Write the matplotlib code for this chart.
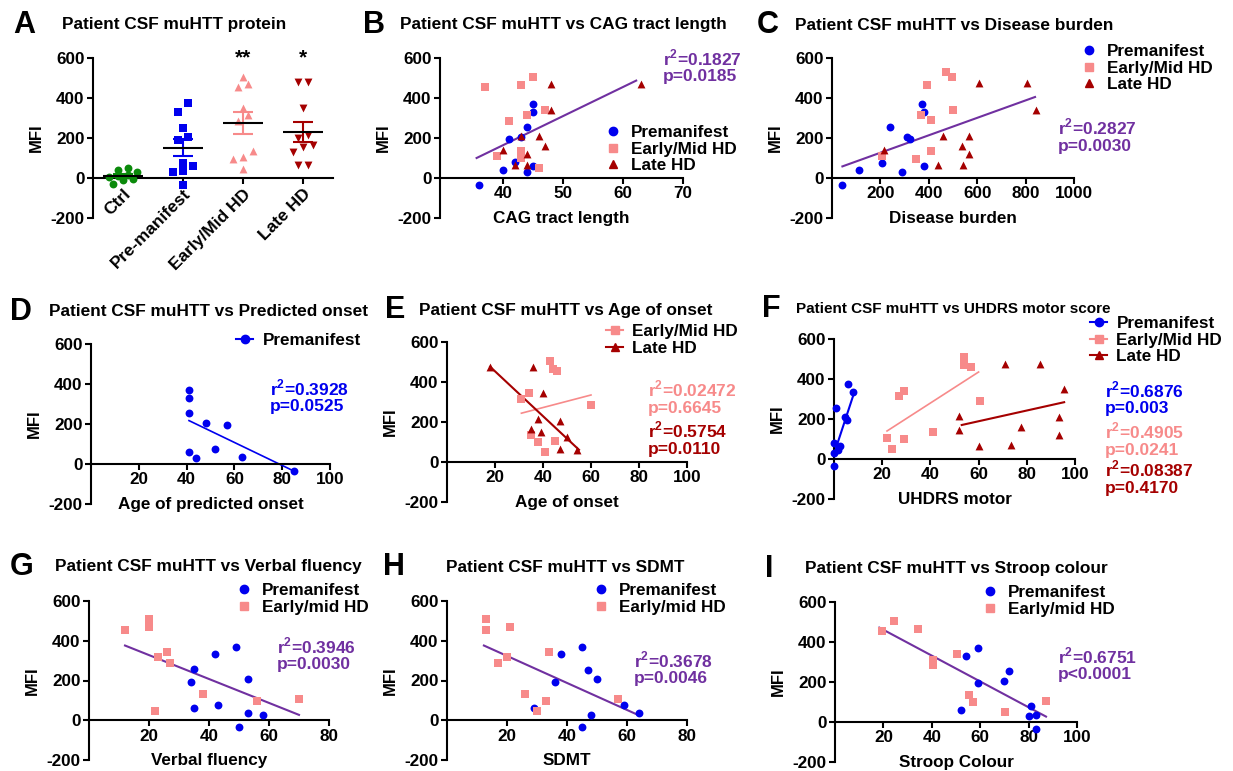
import numpy as np
import matplotlib.pyplot as plt
from matplotlib.lines import Line2D

plt.rcParams['font.family'] = ['Liberation Sans', 'DejaVu Sans']
plt.rcParams['font.weight'] = 'bold'
plt.rcParams['axes.labelweight'] = 'bold'
plt.rcParams['axes.unicode_minus'] = False
plt.rcParams['mathtext.fontset'] = 'custom'
plt.rcParams['mathtext.rm'] = 'Liberation Sans:bold'
plt.rcParams['mathtext.bf'] = 'Liberation Sans:bold'

BLUE = '#0000ee'
PINK = '#f78a8a'
DRED = '#a50000'
GREEN = '#0b8a0b'
PURPLE = '#7030a0'

W, H = 1233, 771

# ---- data ----
# A: MFI per group
a_groups = ['Ctrl', 'Pre-manifest', 'Early/Mid HD', 'Late HD']
a_ctrl = [50, 38, 28, 15, 10, 3, -3, -12, -28]
a_pre = [373, 331, 252, 206, 192, 75, 60, 35, 30, -37]
a_early = [507, 468, 453, 348, 314, 287, 134, 105, 97, 47]
a_late = [478, 478, 348, 214, 202, 164, 155, 130, 67, 67]
a_stars = ['', '', '**', '*']

# B: CAG tract length
b_pre_x = [36, 40, 41, 42, 44, 44, 45, 45, 45, 43]
b_pre_y = [-33, 38, 195, 78, 253, 28, 370, 328, 62, 205]
b_early_x = [37, 43, 45, 41, 44, 47, 39, 43, 43, 46]
b_early_y = [455, 467, 505, 287, 313, 342, 108, 133, 100, 50]
b_late_x = [48, 48, 63, 46, 47, 40, 42, 44, 44, 43]
b_late_y = [470, 342, 470, 208, 158, 142, 67, 122, 63, 208]
b_fit_x = [35.6, 62.2]
b_fit_y = [100, 487]

# C: disease burden
c_pre_x = [43, 113, 208, 240, 309, 322, 291, 371, 380, 380]
c_pre_y = [-33, 38, 75, 253, 205, 195, 30, 370, 330, 62]
c_early_x = [470, 494, 391, 501, 366, 408, 208, 347, 408]
c_early_y = [530, 505, 463, 342, 313, 288, 108, 97, 133]
c_late_x = [607, 804, 843, 457, 566, 539, 567, 439, 543, 216]
c_late_y = [473, 473, 342, 208, 212, 158, 120, 67, 63, 142]
c_fit_x = [43, 839]
c_fit_y = [58, 405]

# D: age of predicted onset
d_pre_x = [41, 41, 41, 48, 57, 41, 44, 52, 63, 85]
d_pre_y = [368, 328, 254, 205, 194, 61, 30, 76, 36, -36]
d_fit_x = [41, 85]
d_fit_y = [217, -36]

# E: age of onset
e_early_x = [43, 44, 46, 34, 31, 60, 35, 38, 45, 41]
e_early_y = [505, 466, 454, 343, 315, 287, 133, 99, 106, 51]
e_late_x = [18, 36, 40, 38, 47, 35, 39, 50, 47, 54]
e_late_y = [476, 476, 343, 214, 207, 164, 148, 123, 66, 61]
e_early_fit_x = [31, 60]
e_early_fit_y = [244, 335]
e_late_fit_x = [18, 55]
e_late_fit_y = [476, 61]

# F: UHDRS motor
f_pre_x = [6, 8, 1, 4.5, 5.5, 0, 2.5, 1.5, 0, 0]
f_pre_y = [373, 333, 253, 208, 195, 82, 65, 45, 32, -35]
f_early_x = [22, 24, 27, 29, 29, 41, 54, 54, 57, 60.5]
f_early_y = [107, 48, 315, 342, 100, 134, 510, 468, 458, 288]
f_late_x = [52, 52, 60, 71, 73.5, 77.5, 85.5, 93.5, 93.5, 95.5]
f_late_y = [216, 144, 65, 475, 70, 162, 475, 209, 120, 350]
f_pre_fit_x = [0, 8.4]
f_pre_fit_y = [25, 333]
f_early_fit_x = [22, 60]
f_early_fit_y = [140, 435]
f_late_fit_x = [53, 95.5]
f_late_fit_y = [170, 284]

# G: verbal fluency
g_pre_x = [35, 34, 42, 49, 53, 35, 43, 53, 58, 50]
g_pre_y = [256, 192, 331, 370, 206, 60, 77, 38, 28, -35]
g_early_x = [12, 20, 20, 26, 23, 27, 38, 56, 70, 22]
g_early_y = [453, 507, 467, 341, 316, 286, 134, 97, 105, 48]
g_fit_x = [12, 70]
g_fit_y = [376, 27]

# H: SDMT
h_pre_x = [45, 38, 47, 50, 36, 29, 59, 48, 64, 45]
h_pre_y = [370, 331, 254, 206, 192, 60, 77, 28, 37, -35]
h_early_x = [13, 13, 21, 34, 20, 17, 26, 33, 57, 30]
h_early_y = [507, 453, 467, 341, 316, 286, 134, 97, 105, 48]
h_fit_x = [12.3, 63.2]
h_fit_y = [376, 30]

# I: Stroop colour
i_pre_x = [59, 54, 72, 70, 59, 52, 81, 80, 83, 83]
i_pre_y = [370, 328, 253, 205, 193, 62, 78, 30, 37, -35]
i_early_x = [19.6, 24.5, 34.4, 50.3, 40.4, 40.4, 55.2, 57.2, 87.1, 70.2]
i_early_y = [457, 507, 467, 342, 310, 285, 133, 98, 105, 48]
i_fit_x = [18.3, 87.2]
i_fit_y = [472, 27]


fig = plt.figure(figsize=(W / 100, H / 100), dpi=100)


def make_ax(x0, x1, ytop, ybot):
    return fig.add_axes([x0 / W, 1 - ybot / H, (x1 - x0) / W, (ybot - ytop) / H])


def style(ax, xlim, xticks, xlabel):
    ax.set_xlim(xlim)
    ax.set_ylim(-200, 600)
    ax.set_yticks([-200, 0, 200, 400, 600])
    ax.set_xticks(xticks)
    for s in ['top', 'right']:
        ax.spines[s].set_visible(False)
    ax.spines['bottom'].set_position(('data', 0))
    for s in ['left', 'bottom']:
        ax.spines[s].set_linewidth(1.5)
    ax.tick_params(width=1.5, length=4, labelsize=12.3, pad=2)
    ax.set_ylabel('MFI', fontsize=12, labelpad=5)
    if xlabel:
        ax.set_xlabel(xlabel, fontsize=12.3, labelpad=7)
    ax.patch.set_alpha(0)


def ftext(x, y, s, color='black', size=12.5, ha='left'):
    fig.text(x / W, 1 - y / H, s, color=color, fontsize=size,
             fontweight='bold', ha=ha, va='center')


def heading(lx, tx, y, letter, title, tsize=12.4):
    ftext(lx, y, letter, size=22)
    ftext(tx, y, title, size=tsize)


def stats(x, y, r2, p, color):
    ftext(x, y - 4, r'r$^{\mathbf{2}}$=' + r2, color=color)
    ftext(x, y + 15, p, color=color)


def legend(ax, handles, labels, x, y, lines=False):
    ax.legend(handles, labels, loc='upper left',
              bbox_to_anchor=(x / W, 1 - y / H), bbox_transform=fig.transFigure,
              frameon=False, fontsize=12.3, borderpad=0, borderaxespad=0,
              handlelength=1.0, handletextpad=0.55 if lines else 0.6,
              labelspacing=0.1)


def mk(marker, color, line=False):
    return Line2D([], [], color=color, marker=marker, markersize=6,
                  linestyle='-' if line else 'none', linewidth=1.5)


def spread(vals, width=0.17, bin_size=45):
    vals = np.asarray(vals, dtype=float)
    offs = np.zeros(len(vals))
    order = np.argsort(vals)
    bins, cur = [], [order[0]]
    for i in order[1:]:
        if vals[i] - vals[cur[0]] < bin_size:
            cur.append(i)
        else:
            bins.append(cur)
            cur = [i]
    bins.append(cur)
    for b in bins:
        k = len(b)
        for j, i in enumerate(b):
            offs[i] = (j - (k - 1) / 2) * width
    return offs


S = 32

# ---- A ----
ax = make_ax(93, 333, 58, 218)
style(ax, (-0.5, 3.5), range(4), None)
a_data = [a_ctrl, a_pre, a_early, a_late]
a_colors = [GREEN, BLUE, PINK, DRED]
a_markers = ['o', 's', '^', 'v']
a_bins = [30, 45, 45, 45]
for i, (vals, c, m, bs) in enumerate(zip(a_data, a_colors, a_markers, a_bins)):
    ax.scatter(i + spread(vals, width=0.16, bin_size=bs), vals, s=S, color=c,
               marker=m, zorder=3, linewidths=0)
    mean = np.mean(vals)
    sem = np.std(vals, ddof=1) / np.sqrt(len(vals))
    ax.errorbar(i, mean, yerr=sem, color=c, capsize=7, capthick=1.5,
                elinewidth=1.5, zorder=4)
    ax.hlines(mean, i - 0.33, i + 0.33, color='black', linewidth=1.5, zorder=5)
    if a_stars[i]:
        ax.text(i, 555, a_stars[i], ha='center', va='bottom', fontsize=15,
                fontweight='bold')
ax.set_xticklabels(a_groups, rotation=45, ha='right', va='top',
                   rotation_mode='anchor', fontsize=12.5)
heading(13, 62, 25, 'A', 'Patient CSF muHTT protein')

# ---- B ----
ax = make_ax(440, 683, 58, 218)
style(ax, (29.5, 70), [40, 50, 60, 70], 'CAG tract length')
ax.plot(b_fit_x, b_fit_y, color=PURPLE, linewidth=1.5)
ax.scatter(b_pre_x, b_pre_y, s=S, color=BLUE, marker='o', zorder=3, linewidths=0)
ax.scatter(b_early_x, b_early_y, s=S, color=PINK, marker='s', zorder=3, linewidths=0)
ax.scatter(b_late_x, b_late_y, s=S, color=DRED, marker='^', zorder=3, linewidths=0)
legend(ax, [mk('o', BLUE), mk('s', PINK), mk('^', DRED)],
       ['Premanifest', 'Early/Mid HD', 'Late HD'], 604, 125)
stats(663, 62, '0.1827', 'p=0.0185', PURPLE)
heading(363, 400, 25, 'B', 'Patient CSF muHTT vs CAG tract length')

# ---- C ----
ax = make_ax(832, 1074, 58, 218)
style(ax, (0, 1000), [200, 400, 600, 800, 1000], 'Disease burden')
ax.plot(c_fit_x, c_fit_y, color=PURPLE, linewidth=1.5)
ax.scatter(c_pre_x, c_pre_y, s=S, color=BLUE, marker='o', zorder=3, linewidths=0)
ax.scatter(c_early_x, c_early_y, s=S, color=PINK, marker='s', zorder=3, linewidths=0)
ax.scatter(c_late_x, c_late_y, s=S, color=DRED, marker='^', zorder=3, linewidths=0)
legend(ax, [mk('o', BLUE), mk('s', PINK), mk('^', DRED)],
       ['Premanifest', 'Early/Mid HD', 'Late HD'], 1080, 44)
stats(1058, 131, '0.2827', 'p=0.0030', PURPLE)
heading(757, 795, 25, 'C', 'Patient CSF muHTT vs Disease burden')

# ---- D ----
ax = make_ax(91, 330, 344, 504)
style(ax, (0, 100), [20, 40, 60, 80, 100], 'Age of predicted onset')
ax.plot(d_fit_x, d_fit_y, color=BLUE, linewidth=1.2)
ax.scatter(d_pre_x, d_pre_y, s=S, color=BLUE, marker='o', zorder=3, linewidths=0)
legend(ax, [mk('o', BLUE, True)], ['Premanifest'], 236, 333, lines=True)
stats(270, 392, '0.3928', 'p=0.0525', BLUE)
heading(10, 49, 312, 'D', 'Patient CSF muHTT vs Predicted onset')

# ---- E ----
ax = make_ax(447, 687, 342, 502)
style(ax, (0, 100), [20, 40, 60, 80, 100], 'Age of onset')
ax.plot(e_early_fit_x, e_early_fit_y, color=PINK, linewidth=1.2)
ax.plot(e_late_fit_x, e_late_fit_y, color=DRED, linewidth=1.5)
ax.scatter(e_early_x, e_early_y, s=S, color=PINK, marker='s', zorder=3, linewidths=0)
ax.scatter(e_late_x, e_late_y, s=S, color=DRED, marker='^', zorder=3, linewidths=0)
legend(ax, [mk('s', PINK, True), mk('^', DRED, True)],
       ['Early/Mid HD', 'Late HD'], 606, 324, lines=True)
stats(648, 393, '0.02472', 'p=0.6645', PINK)
stats(648, 434, '0.5754', 'p=0.0110', DRED)
heading(385, 419, 310, 'E', 'Patient CSF muHTT vs Age of onset')

# ---- F ----
ax = make_ax(834, 1075, 339, 499)
style(ax, (0, 100), [20, 40, 60, 80, 100], 'UHDRS motor')
ax.plot(f_pre_fit_x, f_pre_fit_y, color=BLUE, linewidth=1.5)
ax.plot(f_early_fit_x, f_early_fit_y, color=PINK, linewidth=1.2)
ax.plot(f_late_fit_x, f_late_fit_y, color=DRED, linewidth=1.5)
ax.scatter(f_pre_x, f_pre_y, s=S, color=BLUE, marker='o', zorder=3, linewidths=0,
           clip_on=False)
ax.scatter(f_early_x, f_early_y, s=S, color=PINK, marker='s', zorder=3, linewidths=0)
ax.scatter(f_late_x, f_late_y, s=S, color=DRED, marker='^', zorder=3, linewidths=0)
legend(ax, [mk('o', BLUE, True), mk('s', PINK, True), mk('^', DRED, True)],
       ['Premanifest', 'Early/Mid HD', 'Late HD'], 1090, 316, lines=True)
stats(1105, 394, '0.6876', 'p=0.003', BLUE)
stats(1105, 435, '0.4905', 'p=0.0241', PINK)
stats(1105, 473, '0.08387', 'p=0.4170', DRED)
heading(762, 796, 309, 'F', 'Patient CSF muHTT vs UHDRS motor score', tsize=11)

# ---- G ----
ax = make_ax(89, 329, 601, 760)
style(ax, (0, 80), [20, 40, 60, 80], 'Verbal fluency')
ax.plot(g_fit_x, g_fit_y, color=PURPLE, linewidth=1.5)
ax.scatter(g_pre_x, g_pre_y, s=S, color=BLUE, marker='o', zorder=3, linewidths=0)
ax.scatter(g_early_x, g_early_y, s=S, color=PINK, marker='s', zorder=3, linewidths=0)
legend(ax, [mk('o', BLUE), mk('s', PINK)], ['Premanifest', 'Early/mid HD'], 235, 583)
stats(277, 650, '0.3946', 'p=0.0030', PURPLE)
heading(10, 55, 567, 'G', 'Patient CSF muHTT vs Verbal fluency')

# ---- H ----
ax = make_ax(447, 687, 601, 760)
style(ax, (0, 80), [20, 40, 60, 80], 'SDMT')
ax.plot(h_fit_x, h_fit_y, color=PURPLE, linewidth=1.5)
ax.scatter(h_pre_x, h_pre_y, s=S, color=BLUE, marker='o', zorder=3, linewidths=0)
ax.scatter(h_early_x, h_early_y, s=S, color=PINK, marker='s', zorder=3, linewidths=0)
legend(ax, [mk('o', BLUE), mk('s', PINK)], ['Premanifest', 'Early/mid HD'], 592, 583)
stats(634, 664, '0.3678', 'p=0.0046', PURPLE)
heading(383, 446, 567, 'H', 'Patient CSF muHTT vs SDMT')

# ---- I ----
ax = make_ax(835, 1077, 602, 762)
style(ax, (0, 100), [20, 40, 60, 80, 100], 'Stroop Colour')
ax.plot(i_fit_x, i_fit_y, color=PURPLE, linewidth=1.5)
ax.scatter(i_pre_x, i_pre_y, s=S, color=BLUE, marker='o', zorder=3, linewidths=0)
ax.scatter(i_early_x, i_early_y, s=S, color=PINK, marker='s', zorder=3, linewidths=0)
legend(ax, [mk('o', BLUE), mk('s', PINK)], ['Premanifest', 'Early/mid HD'], 981, 585)
stats(1058, 660, '0.6751', 'p<0.0001', PURPLE)
heading(765, 805, 569, 'I', 'Patient CSF muHTT vs Stroop colour')

fig.savefig('out.png', dpi=100)
